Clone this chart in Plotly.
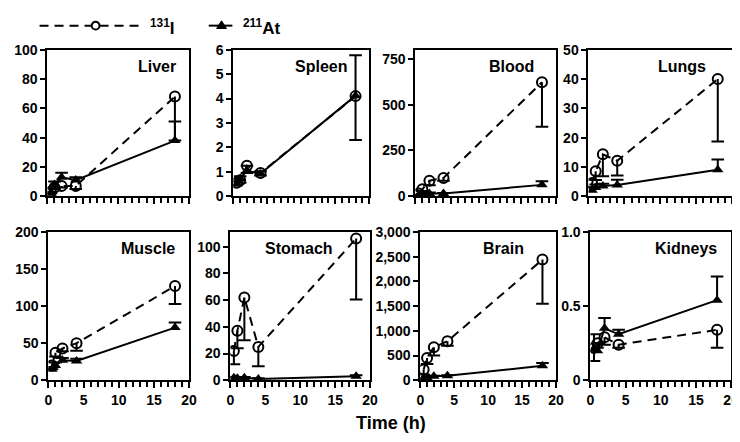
import plotly.graph_objects as go

W, H = 740, 442

time_h = [0.5, 1, 2, 4, 18]

organs = ["Liver", "Spleen", "Blood", "Lungs", "Muscle", "Stomach", "Brain", "Kidneys"]

# 131I values (mean) with lower error; 211At values (mean) with upper error
liver_i = [3, 6, 7, 7, 68]
liver_i_err = [1, 1, 1, 2, 30]
liver_at = [2, 8, 13, 11, 38]
liver_at_err = [1, 2, 3, 2, 13]

spleen_i = [0.55, 0.65, 1.25, 0.95, 4.1]
spleen_i_err = [0.1, 0.1, 0.3, 0.1, 1.8]
spleen_at = [0.5, 0.72, 1.05, 0.92, 4.12]
spleen_at_err = [0.1, 0.1, 0.2, 0.1, 1.65]

blood_i = [15, 38, 85, 100, 622]
blood_i_err = [5, 10, 25, 15, 242]
blood_at = [5, 10, 15, 15, 62]
blood_at_err = [2, 3, 5, 3, 20]

lungs_i = [4.5, 8.5, 14.3, 12.1, 40]
lungs_i_err = [1.5, 3, 7.5, 5, 21.3]
lungs_at = [2, 3, 3.5, 3.8, 9]
lungs_at_err = [1, 1, 0.8, 1.8, 3.5]

muscle_i = [20, 37, 43, 50, 127]
muscle_i_err = [5, 5, 4, 10, 24]
muscle_at = [15, 20, 27, 26, 71]
muscle_at_err = [3, 4, 3, 3, 7]

stomach_i = [22, 37, 62, 25, 106]
stomach_i_err = [10, 13, 32, 14.5, 45.5]
stomach_at = [2, 1.5, 2, 1, 3]
stomach_at_err = [0.5, 0.5, 0.5, 0.5, 0.8]

brain_i = [220, 450, 670, 790, 2440]
brain_i_err = [100, 120, 170, 90, 890]
brain_at = [30, 50, 80, 90, 295]
brain_at_err = [10, 20, 10, 10, 55]

kidneys_i = [0.22, 0.25, 0.29, 0.24, 0.34]
kidneys_i_err = [0.09, 0.03, 0.05, 0.02, 0.12]
kidneys_at = [0.21, 0.2, 0.35, 0.31, 0.54]
kidneys_at_err = [0.1, 0.05, 0.07, 0.03, 0.16]

series = [
    (liver_i, liver_i_err, liver_at, liver_at_err),
    (spleen_i, spleen_i_err, spleen_at, spleen_at_err),
    (blood_i, blood_i_err, blood_at, blood_at_err),
    (lungs_i, lungs_i_err, lungs_at, lungs_at_err),
    (muscle_i, muscle_i_err, muscle_at, muscle_at_err),
    (stomach_i, stomach_i_err, stomach_at, stomach_at_err),
    (brain_i, brain_i_err, brain_at, brain_at_err),
    (kidneys_i, kidneys_i_err, kidneys_at, kidneys_at_err),
]

y_ranges = [[0, 100], [0, 6], [0, 800], [0, 50], [0, 200], [0, 111], [0, 3000], [0, 1.0]]
y_ticks = [
    [0, 20, 40, 60, 80, 100],
    [0, 1, 2, 3, 4, 5, 6],
    [0, 250, 500, 750],
    [0, 10, 20, 30, 40, 50],
    [0, 50, 100, 150, 200],
    [0, 20, 40, 60, 80, 100],
    [0, 500, 1000, 1500, 2000, 2500, 3000],
    [0, 0.5, 1.0],
]
y_ticktext = [
    None, None, None, None, None, None,
    ["0", "500", "1,000", "1,500", "2,000", "2,500", "3,000"],
    ["0", "0.5", "1.0"],
]
x_ticks = [0, 5, 10, 15, 20]

legend_labels = ["<sup>131</sup>I", "<sup>211</sup>At"]

# panel pixel boxes (left, right, top, bottom)
boxes = [
    (36, 180, 35, 187), (225, 363, 35, 187), (410, 553, 35, 187), (586, 732, 35, 187),
    (37, 180, 224, 378), (222, 364, 224, 378), (415, 553, 224, 378), (588, 731, 224, 378),
]
# distance (px) of each panel label's right edge from the panel's right frame
label_right_gap = [11, 20, 20, 25, 12, 36, 31, 12]

fig = go.Figure()
FONT = "Liberation Sans, Arial, sans-serif"
TICKFONT = dict(family=FONT, size=14, color="black", weight="bold")

for i, (name, (yi, yie, ya, yae)) in enumerate(zip(organs, series)):
    n = i + 1
    xa = "x" if n == 1 else f"x{n}"
    ya_ = "y" if n == 1 else f"y{n}"
    # 131I: dashed line, open circles, error bar downward
    fig.add_trace(go.Scatter(
        x=time_h, y=yi, mode="lines+markers", name=legend_labels[0],
        line=dict(color="black", width=2, dash="9px,6px"),
        marker=dict(symbol="circle-open", size=10, color="black", line=dict(width=2, color="black")),
        error_y=dict(type="data", symmetric=False, array=[0] * len(yi), arrayminus=yie,
                     color="black", thickness=2, width=0),
        xaxis=xa, yaxis=ya_, showlegend=False,
    ))
    fig.add_trace(go.Scatter(
        x=time_h, y=[v - e for v, e in zip(yi, yie)], mode="markers",
        marker=dict(symbol="line-ew-open", size=9, color="black", line=dict(width=2, color="black")),
        xaxis=xa, yaxis=ya_, showlegend=False, hoverinfo="skip",
    ))
    # 211At: solid line, filled triangles, error bar upward
    fig.add_trace(go.Scatter(
        x=time_h, y=ya, mode="lines+markers", name=legend_labels[1],
        line=dict(color="black", width=2),
        marker=dict(symbol="triangle-up", size=10, color="black"),
        error_y=dict(type="data", symmetric=False, array=yae, arrayminus=[0] * len(ya),
                     color="black", thickness=2, width=0),
        xaxis=xa, yaxis=ya_, showlegend=False,
    ))
    fig.add_trace(go.Scatter(
        x=time_h, y=[v + e for v, e in zip(ya, yae)], mode="markers",
        marker=dict(symbol="line-ew-open", size=9, color="black", line=dict(width=2, color="black")),
        xaxis=xa, yaxis=ya_, showlegend=False, hoverinfo="skip",
    ))
    l, r, t, b = boxes[i]
    xdom = [l / W, r / W]
    ydom = [1 - b / H, 1 - t / H]
    bottom_row = i >= 4
    axkey_x = "xaxis" if n == 1 else f"xaxis{n}"
    axkey_y = "yaxis" if n == 1 else f"yaxis{n}"
    fig.layout[axkey_x] = dict(
        domain=xdom, anchor=ya_, range=[0, 20], tickvals=x_ticks,
        showticklabels=bottom_row, ticks="outside", ticklen=6, tickwidth=2, tickcolor="black",
        minor=dict(dtick=1, ticks="outside", ticklen=5, tickwidth=1.5, tickcolor="black"),
        showline=True, linecolor="black", linewidth=2, mirror=True, showgrid=False, zeroline=False,
        tickfont=TICKFONT,
    )
    ydict = dict(
        domain=ydom, anchor=xa, range=y_ranges[i], tickvals=y_ticks[i],
        ticks="outside", ticklen=5, tickwidth=2, tickcolor="black",
        showline=True, linecolor="black", linewidth=2, mirror=True, showgrid=False, zeroline=False,
        tickfont=TICKFONT,
    )
    if y_ticktext[i] is not None:
        ydict["ticktext"] = y_ticktext[i]
    fig.layout[axkey_y] = ydict
    fig.add_annotation(
        text=f"<b>{name}</b>", xref=f"{xa} domain", yref=f"{ya_} domain",
        x=1 - label_right_gap[i] / (r - l), y=0.885, xanchor="right", yanchor="middle",
        showarrow=False, font=dict(family=FONT, size=16, color="black"),
    )

# Legend keys (drawn in paper space)
def px(xp):
    return xp / W

def py(yp):
    return 1 - yp / H

LY = 10
fig.add_shape(type="line", xref="paper", yref="paper", x0=px(28), x1=px(130), y0=py(LY), y1=py(LY),
              line=dict(color="black", width=2, dash="9px,6px"))
fig.add_shape(type="circle", xref="paper", yref="paper", x0=px(81), x1=px(89), y0=py(LY + 4), y1=py(LY - 4),
              line=dict(color="black", width=2), fillcolor="white")
fig.add_shape(type="line", xref="paper", yref="paper", x0=px(200), x1=px(224), y0=py(LY), y1=py(LY),
              line=dict(color="black", width=2))
fig.add_shape(type="path", xref="paper", yref="paper",
              path=f"M {px(208)} {py(LY + 3)} L {px(218)} {py(LY + 3)} L {px(213)} {py(LY - 5)} Z",
              line=dict(color="black", width=1), fillcolor="black")
fig.add_annotation(text=f"<b>{legend_labels[0]}</b>", xref="paper", yref="paper", x=px(138), y=py(LY + 1),
                   xanchor="left", yanchor="middle", showarrow=False,
                   font=dict(family=FONT, size=17, color="black"))
fig.add_annotation(text=f"<b>{legend_labels[1]}</b>", xref="paper", yref="paper", x=px(233), y=py(LY + 1),
                   xanchor="left", yanchor="middle", showarrow=False,
                   font=dict(family=FONT, size=17, color="black"))

fig.add_annotation(
    text="<b>Time (h)</b>", xref="paper", yref="paper", x=385 / W, y=1 - 422 / H,
    xanchor="center", yanchor="middle", showarrow=False,
    font=dict(family=FONT, size=18, color="black"),
)

fig.update_layout(
    width=W, height=H, margin=dict(l=0, r=0, t=0, b=0),
    paper_bgcolor="white", plot_bgcolor="white", showlegend=False,
)

fig.write_html("out.html")
